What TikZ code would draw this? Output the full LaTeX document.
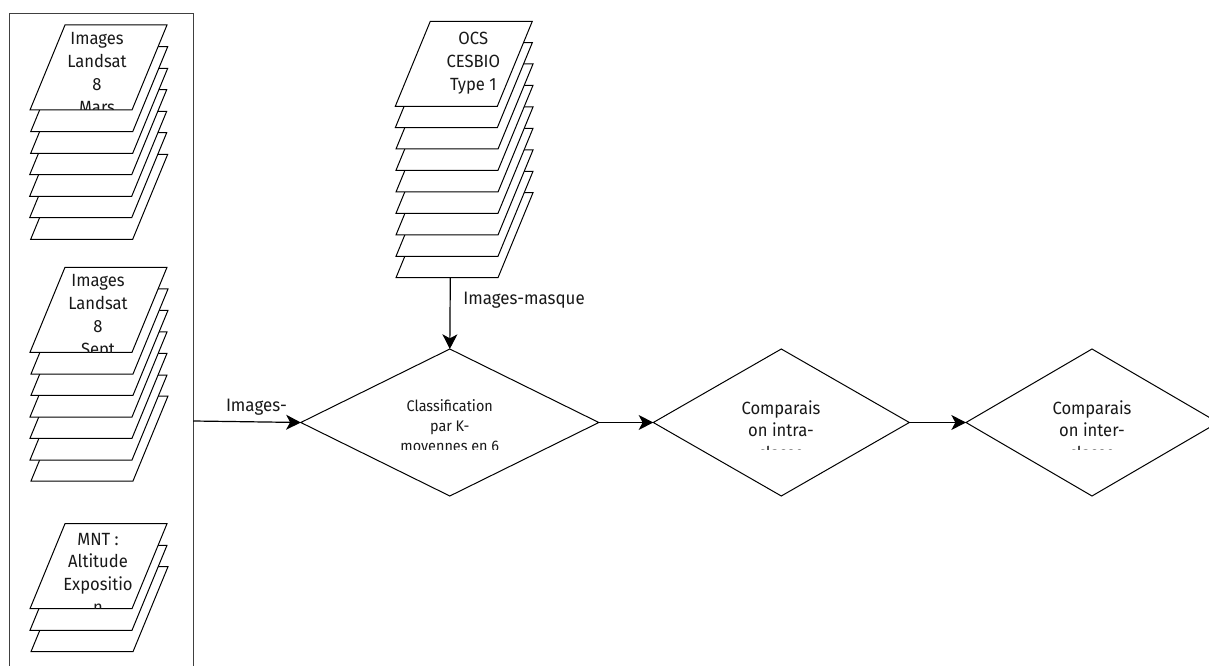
\documentclass[tikz,border=0pt]{standalone}
\usepackage{fontspec}
\setmainfont[FakeStretch=0.94]{Fira Sans}
\usetikzlibrary{arrows.meta,shapes.geometric}
\tikzset{
  x=0.75pt,y=-0.75pt,
  sheetline/.style={draw=black,fill=white,line width=0.75pt,line join=miter},
  decision/.style={diamond,draw=black,fill=white,line width=0.75pt,inner sep=0pt,outer sep=0pt,minimum height=110.25pt},
  framebox/.style={rectangle,draw=black!75,line width=0.75pt,inner sep=0pt,outer sep=0pt,minimum width=138pt,minimum height=610.5pt},
  flow/.style={draw=black,line width=0.9pt,-{Stealth[length=11pt,width=11.25pt,inset=3pt]}},
  biglabel/.style={anchor=north,align=center,inner sep=0pt,outer sep=0pt,text=black!90,font=\fontsize{13.25pt}{17.2pt}\selectfont},
  smalllabel/.style={anchor=north,align=center,inner sep=0pt,outer sep=0pt,text=black!90,font=\fontsize{11.5pt}{15pt}\selectfont},
  linklabel/.style={anchor=base west,inner sep=0pt,outer sep=0pt,text=black!90,font=\fontsize{13.5pt}{17.5pt}\selectfont},
}
\newcommand{\sheetat}[2]{\path[sheetline] (#1,#2) -- ++(102,0) -- ++(35,-85) -- ++(-102,0) -- cycle;}
\newcommand{\firstln}{\rule{0pt}{12pt}}
\begin{document}
\begin{tikzpicture}
\useasboundingbox (0,0) rectangle (1209,666);
\clip (0,0) rectangle (1209,666);
\fill[white] (0,0) rectangle (1209,666);

\node[framebox] (frame) at (101.25,421) {};

% stack Mars
\sheetat{30.7}{239.3}\sheetat{29.7}{217.7}\sheetat{29.7}{196.3}\sheetat{29.7}{174.7}\sheetat{30.7}{153.3}\sheetat{30.7}{131.7}\sheetat{30}{110}
\begin{scope}
\clip (0,0) rectangle (1209,110);
\node[biglabel] (mars) at (97,29) {\firstln Images\\Landsat\\8\\Mars};
\end{scope}

% stack Sept
\sheetat{31}{481}\sheetat{30}{460}\sheetat{30}{438.3}\sheetat{30}{417}\sheetat{31}{395.3}\sheetat{31}{374}\sheetat{30}{352.3}
\begin{scope}
\clip (0,0) rectangle (1209,352.3);
\node[biglabel] (sept) at (98,270.7) {\firstln Images\\Landsat\\8\\Sept};
\end{scope}

% stack MNT
\sheetat{31}{651.7}\sheetat{30}{630.3}\sheetat{30}{608.7}
\begin{scope}
\clip (0,0) rectangle (1209,608.7);
\node[biglabel] (mnt) at (98,529) {\firstln MNT :\\Altitude\\Expositio\\n};
\end{scope}

% stack OCS
\sheetat{396}{277.7}\sheetat{396}{256.3}\sheetat{396}{235}\sheetat{396}{213.3}\sheetat{396}{192}\sheetat{396}{170.3}\sheetat{396}{149}\sheetat{395.3}{127.7}\sheetat{395.3}{106.3}
\node[biglabel] (ocs) at (473.3,28.4) {\firstln OCS\\CESBIO\\Type 1};
\coordinate (ocsout) at (450.3,277.7);

% decisions
\node[decision,minimum width=223.5pt] (kmeans) at (449.8,422.5) {};
\node[decision,minimum width=192pt] (intra) at (781.3,422.5) {};
\node[decision,minimum width=189pt] (inter) at (1092,422.5) {};

\begin{scope}
\clip (0,0) rectangle (1209,449.8);
\node[smalllabel] (kmeanstxt) at (449.8,397.7) {\rule{0pt}{10pt}Classification\\par K-\\moyennes en 6};
\node[biglabel] (intratxt) at (781,398) {\firstln Comparais\\on intra-\\classe};
\node[biglabel] (intertxt) at (1092,398) {\firstln Comparais\\on inter-\\classe};
\end{scope}

% connectors
\draw[flow] (frame.east) -- (kmeans.west);
\draw[flow] (ocsout) -- (kmeans.north);
\draw[flow] (kmeans.east) -- (intra.west);
\draw[flow] (intra.east) -- (inter.west);

\node[linklabel] (lab1) at (226,411.7) {Images-};
\node[linklabel] (lab2) at (463.3,305) {Images-masque};
\end{tikzpicture}
\end{document}
